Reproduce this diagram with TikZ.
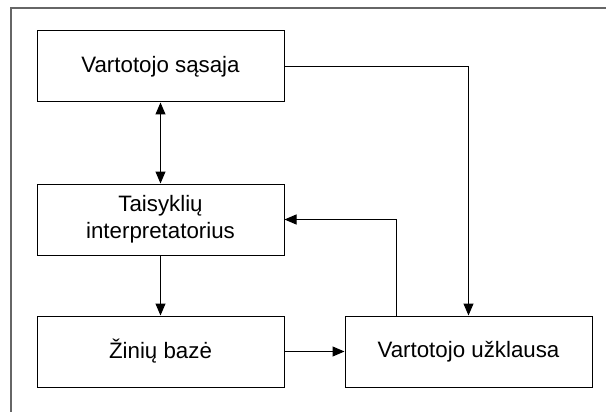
\documentclass[tikz,border=0pt]{standalone}
\usepackage{fontspec}
\setmainfont{Liberation Sans}
\usetikzlibrary{arrows.meta}
\begin{document}
\begin{tikzpicture}[x=1pt,y=-1pt,
  box/.style={draw=black,line width=1pt,minimum width=247pt,minimum height=71pt,inner sep=0pt,align=center,font=\fontsize{22.3}{26.8}\selectfont},
  conn/.style={line width=1pt,-{Triangle[length=12pt,width=10pt]}},
  frame/.style={draw=black!60,line width=1.2pt}]
\useasboundingbox (0,0) rectangle (606,412);
\coordinate (ftr) at (606,8);
\coordinate (ftl) at (11,8);
\coordinate (fbl) at (11,412);
\draw[frame] (ftr) -- (ftl) -- (fbl);
\node[box] (ui) at (160.5,66.5) {Vartotojo sąsaja};
\node[box] (ri) at (160.5,219.5) {Taisyklių\\interpretatorius};
\node[box] (kb) at (160.5,351.5) {Žinių bazė};
\node[box] (uq) at (468.5,351.5) {Vartotojo užklausa};
\draw[conn,{Triangle[length=12pt,width=10pt]}-{Triangle[length=12pt,width=10pt]}] (ui) -- (ri);
\draw[conn] (ri) -- (kb);
\draw[conn] (kb) -- (uq);
\draw[conn] (ui.east) -| (uq.north);
\draw[conn] (uq.north west) ++(51.5,0) coordinate (uqa) |- (ri.east);
\end{tikzpicture}
\end{document}
